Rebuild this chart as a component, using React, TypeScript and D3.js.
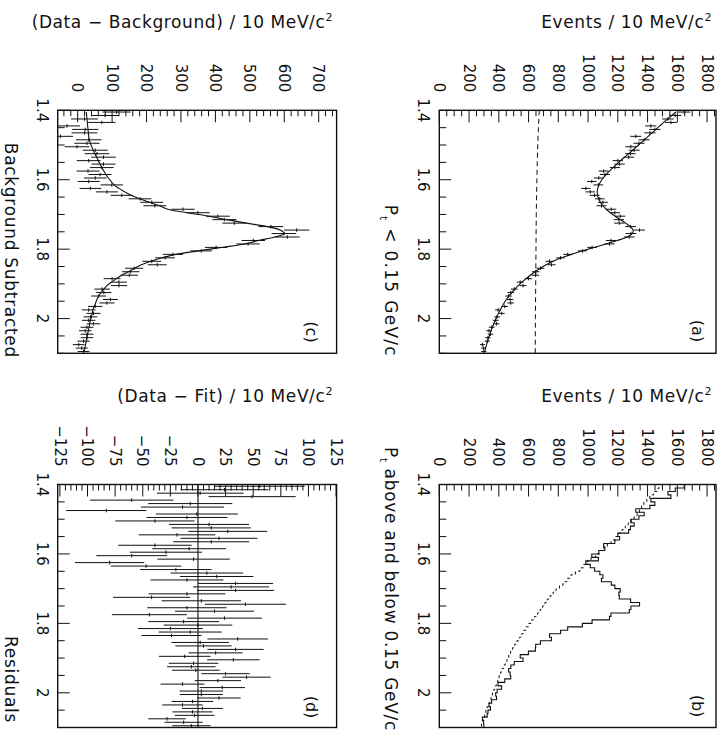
import React from 'react';
import * as d3 from 'd3';

// ---------------- data ----------------
const massMin = 1.4;
const massMax = 2.1;
const binWidth = 0.01;
const massBins = d3.range(70).map((i) => +(massMin + binWidth * (i + 0.5)).toFixed(3));

// (a) fit curve, Pt < 0.15 GeV/c
const fitA = [
  1590, 1562, 1535, 1508, 1482, 1456, 1430, 1404, 1378, 1352,
  1326, 1300, 1273, 1246, 1219, 1193, 1168, 1144, 1121, 1101,
  1085, 1073, 1065, 1062, 1064, 1071, 1083, 1100, 1122, 1150,
  1182, 1217, 1252, 1283, 1303, 1298, 1262, 1198, 1120, 1040,
  962, 888, 822, 765, 718, 678, 643, 612, 583, 556,
  531, 508, 487, 468, 451, 436, 422, 409, 397, 386,
  376, 366, 357, 348, 340, 332, 325, 318, 311, 305,
];
// (a) data, Pt < 0.15 GeV/c (also solid histogram of (b))
const dataA = [
  1646, 1586, 1537, 1557, 1422, 1449, 1416, 1321, 1377, 1342,
  1287, 1310, 1285, 1273, 1200, 1212, 1180, 1105, 1113, 1072,
  1025, 1069, 985, 1015, 1044, 1079, 1100, 1090, 1156, 1180,
  1216, 1207, 1210, 1286, 1346, 1288, 1277, 1154, 1144, 1027,
  962, 863, 815, 741, 754, 680, 648, 646, 599, 544,
  563, 504, 481, 466, 476, 480, 440, 395, 419, 389,
  379, 385, 352, 334, 344, 327, 322, 290, 298, 299,
];
// (a) dashed curve
const bgDashMass = [1.4, 1.5, 1.6, 1.7, 1.8, 1.9, 2.0, 2.1];
const bgDashA = [672, 662, 656, 652, 650, 648, 646, 645];

// (b) dashed histogram, Pt above 0.15 GeV/c (normalised)
const dashedB = [
  1500, 1470, 1440, 1415, 1395, 1375, 1360, 1345, 1330, 1310,
  1290, 1270, 1250, 1228, 1205, 1180, 1155, 1130, 1105, 1080,
  1050, 1020, 995, 970, 945, 915, 885, 858, 832, 808,
  785, 765, 745, 726, 710, 694, 678, 660, 640, 620,
  600, 582, 566, 552, 538, 522, 506, 492, 479, 467,
  455, 444, 433, 422, 412, 402, 393, 384, 375, 366,
  357, 348, 339, 330, 321, 313, 305, 297, 290, 283,
];

// (c) background subtracted data and fit
const dataC = [
  113, 80, 20, 70, -31, 22, 20, -50, 32, 27,
  -2, 51, 56, 75, 32, 75, 70, 30, 65, 51,
  32, 99, 37, 85, 128, 181, 215, 224, 306, 349,
  407, 426, 455, 561, 636, 599, 609, 510, 495, 402,
  359, 277, 254, 215, 231, 164, 154, 150, 100, 120,
  120, 71, 76, 61, 95, 85, 51, 32, 46, 37,
  32, 46, 27, 22, 27, 27, 17, 3, 12, 17,
];
const fitC = [
  25, 26, 27, 28, 29, 30, 31, 32, 34, 37,
  41, 45, 50, 55, 60, 65, 70, 76, 82, 89,
  97, 106, 120, 137, 155, 180, 208, 238, 262, 318,
  380, 432, 490, 551, 588, 600, 572, 525, 485, 418,
  350, 285, 245, 212, 185, 165, 148, 128, 112, 98,
  85, 76, 68, 61, 56, 52, 48, 44, 42, 40,
  37, 35, 33, 31, 29, 27, 25, 23, 21, 19,
];

// (d) residuals data - fit
const residD = [
  56, 24, 2, 49, -60, -7, -14, -83, -1, -10,
  -39, 10, 12, 27, -19, 19, 12, -39, -8, -29,
  -60, -4, -80, -47, -20, 8, 17, -10, 34, 30,
  34, -10, -42, 3, 43, -10, 15, -44, 24, -13,
  0, -25, -7, -24, 36, 2, 5, 34, 16, -12,
  32, -4, -6, -2, 25, 44, 18, -14, 22, 3,
  3, 19, -5, -14, 4, -5, -3, -28, -13, -6,
];

// tick labels
const massLabels = [1.4, 1.6, 1.8, 2.0];
const labelsAB = [0, 200, 400, 600, 800, 1000, 1200, 1400, 1600, 1800];
const labelsC = [0, 100, 200, 300, 400, 500, 600, 700];
const labelsD = [-125, -100, -75, -50, -25, 0, 25, 50, 75, 100, 125];

// ---------------- drawing ----------------
const FONT = '"DejaVu Sans", "Liberation Sans", sans-serif';
const INK = '#111';
const MINUS = '\u2212';

type Frame = { x0: number; x1: number; y0: number; y1: number };
type Scale = d3.ScaleLinear<number, number>;

const frameA: Frame = { x0: 439.3, x1: 716, y0: 110.3, y1: 353.3 };
const frameB: Frame = { x0: 439.3, x1: 716, y0: 484.5, y1: 727.5 };
const frameC: Frame = { x0: 57.7, x1: 336.6, y0: 110.3, y1: 353.3 };
const frameD: Frame = { x0: 57.7, x1: 336.6, y0: 484.5, y1: 727.5 };

function fmtNum(v: number) {
  const s = String(v);
  return v < 0 ? MINUS + s.slice(1) : s;
}

function Crosses({ xs, ys, values, errs }: { xs: Scale; ys: Scale; values: number[]; errs: number[] }) {
  return (
    <g stroke={INK} strokeWidth={1}>
      {values.map((v, i) => {
        const m = massBins[i];
        const e = errs[i];
        return (
          <g key={i}>
            <line x1={xs(v - e)} x2={xs(v + e)} y1={ys(m)} y2={ys(m)} />
            <line x1={xs(v)} x2={xs(v)} y1={ys(m - binWidth / 2)} y2={ys(m + binWidth / 2)} />
          </g>
        );
      })}
    </g>
  );
}

function histPath(values: number[], xs: Scale, ys: Scale, closeZero: boolean) {
  const pts: [number, number][] = [];
  if (closeZero) pts.push([xs(0), ys(massMin)]);
  values.forEach((v, i) => {
    pts.push([xs(v), ys(massMin + i * binWidth)]);
    pts.push([xs(v), ys(massMin + (i + 1) * binWidth)]);
  });
  if (closeZero) pts.push([xs(0), ys(massMax)]);
  return d3.line()(pts) || '';
}

type PanelProps = {
  id: string;
  frame: Frame;
  domain: [number, number];
  minor: number;
  major: number;
  labels: number[];
  title: string;
  titleEnd: number;
  titleBase: number;
  caption: React.ReactNode;
  captionBase: number;
  captionEnd: number;
  captionSpacing: number;
  tag: string;
  tagBase: number;
  tagY: number;
  render: (xs: Scale, ys: Scale) => React.ReactNode;
};

function Panel(p: PanelProps) {
  const { frame: f } = p;
  const xs = d3.scaleLinear().domain(p.domain).range([f.x0, f.x1]);
  const ys = d3.scaleLinear().domain([massMin, massMax]).range([f.y0, f.y1]);
  const ratio = Math.round(p.major / p.minor);
  const nStart = Math.ceil(p.domain[0] / p.minor - 1e-9);
  const nEnd = Math.floor(p.domain[1] / p.minor + 1e-9);
  const valueTicks = d3.range(nStart, nEnd + 1).map((n) => ({ v: n * p.minor, major: n % ratio === 0 }));
  const massTicks = d3.range(0, 15).map((k) => ({ m: massMin + 0.05 * k, major: k % 4 === 0 }));
  const clipId = 'clip-' + p.id;
  return (
    <g>
      <defs>
        <clipPath id={clipId}>
          <rect x={f.x0} y={f.y0} width={f.x1 - f.x0} height={f.y1 - f.y0} />
        </clipPath>
      </defs>
      <g clipPath={`url(#${clipId})`}>{p.render(xs, ys)}</g>
      <g stroke={INK} strokeWidth={1}>
        {valueTicks.map((t, i) => (
          <line key={i} x1={xs(t.v)} x2={xs(t.v)} y1={f.y0} y2={f.y0 + (t.major ? 12 : 6)} />
        ))}
        {massTicks.map((t, i) => (
          <line key={'m' + i} x1={f.x0} x2={f.x0 + (t.major ? 12 : 7)} y1={ys(t.m)} y2={ys(t.m)} />
        ))}
      </g>
      <rect x={f.x0} y={f.y0} width={f.x1 - f.x0} height={f.y1 - f.y0} fill="none" stroke={INK} strokeWidth={1.4} />
      <g fontSize={15} fill={INK} textAnchor="end">
        {p.labels.map((v) => (
          <text key={v} x={xs(v)} y={f.y0 - 18} dy="0.36em" transform={`rotate(90 ${xs(v)} ${f.y0 - 18})`}>
            {fmtNum(v)}
          </text>
        ))}
      </g>
      <g fontSize={15} fill={INK} textAnchor="middle">
        {massLabels.map((m) => (
          <text key={m} x={f.x0 - 21} y={ys(m)} transform={`rotate(90 ${f.x0 - 21} ${ys(m)})`}>
            {m === 2 ? '2' : m.toFixed(1)}
          </text>
        ))}
      </g>
      <text x={p.titleEnd} y={p.titleBase} textAnchor="end" fontSize={17} letterSpacing={0.6} fill={INK}>
        {p.title}
        <tspan dy={-7} fontSize={11}>2</tspan>
      </text>
      <text
        x={p.captionBase}
        y={p.captionEnd}
        textAnchor="end"
        fontSize={17}
        letterSpacing={p.captionSpacing}
        fill={INK}
        transform={`rotate(90 ${p.captionBase} ${p.captionEnd})`}
      >
        {p.caption}
      </text>
      <text
        x={p.tagBase}
        y={p.tagY}
        textAnchor="middle"
        fontSize={16}
        fill={INK}
        transform={`rotate(90 ${p.tagBase} ${p.tagY})`}
      >
        {p.tag}
      </text>
    </g>
  );
}

const ptCaption = (rest: string) => (
  <>
    P
    <tspan dy={5} fontSize={10}>t</tspan>
    <tspan dy={-5}>{rest}</tspan>
  </>
);

export default function App() {
  const W = 725;
  const H = 731;
  const errA = dataA.map((v) => Math.sqrt(v));
  return (
    <svg
      width={W}
      height={H}
      viewBox={`0 0 ${W} ${H}`}
      style={{ position: 'absolute', left: 0, top: 0, background: '#fff' }}
      fontFamily={FONT}
    >
      <rect width={W} height={H} fill="#fff" />
      <Panel
        id="a"
        frame={frameA}
        domain={[0, 1860]}
        minor={50}
        major={200}
        labels={labelsAB}
        title="Events / 10 MeV/c"
        titleEnd={712}
        titleBase={28}
        caption={ptCaption(' < 0.15 GeV/c')}
        captionBase={384.5}
        captionEnd={357}
        captionSpacing={1.3}
        tag="(a)"
        tagBase={692}
        tagY={331}
        render={(xs, ys) => (
          <g>
            <path
              d={
                d3
                  .line<number>()
                  .x((d, i) => xs(bgDashA[i]))
                  .y((d) => ys(d))
                  .curve(d3.curveMonotoneY)(bgDashMass) || ''
              }
              fill="none"
              stroke={INK}
              strokeWidth={1}
              strokeDasharray="5,3.5"
            />
            <path
              d={
                d3
                  .line<number>()
                  .x((d, i) => xs(fitA[i]))
                  .y((d) => ys(d))
                  .curve(d3.curveCatmullRom)(massBins) || ''
              }
              fill="none"
              stroke={INK}
              strokeWidth={1.1}
            />
            <Crosses xs={xs} ys={ys} values={dataA} errs={errA} />
          </g>
        )}
      />
      <Panel
        id="b"
        frame={frameB}
        domain={[0, 1860]}
        minor={50}
        major={200}
        labels={labelsAB}
        title="Events / 10 MeV/c"
        titleEnd={712}
        titleBase={402}
        caption={ptCaption(' above and below 0.15 GeV/c')}
        captionBase={384.5}
        captionEnd={731}
        captionSpacing={0.7}
        tag="(b)"
        tagBase={692}
        tagY={706}
        render={(xs, ys) => (
          <g fill="none" stroke={INK}>
            <path d={histPath(dashedB, xs, ys, false)} strokeWidth={1} strokeDasharray="3,3" />
            <path d={histPath(dataA, xs, ys, true)} strokeWidth={1.1} />
          </g>
        )}
      />
      <Panel
        id="c"
        frame={frameC}
        domain={[-58, 752]}
        minor={20}
        major={100}
        labels={labelsC}
        title={`(Data ${MINUS} Background) / 10 MeV/c`}
        titleEnd={333}
        titleBase={28}
        caption="Background Subtracted"
        captionBase={5}
        captionEnd={358}
        captionSpacing={0.7}
        tag="(c)"
        tagBase={306}
        tagY={332}
        render={(xs, ys) => (
          <g>
            <path
              d={
                d3
                  .line<number>()
                  .x((d, i) => xs(fitC[i]))
                  .y((d) => ys(d))
                  .curve(d3.curveCatmullRom)(massBins) || ''
              }
              fill="none"
              stroke={INK}
              strokeWidth={1.1}
            />
            <Crosses xs={xs} ys={ys} values={dataC} errs={errA} />
          </g>
        )}
      />
      <Panel
        id="d"
        frame={frameD}
        domain={[-127, 125.5]}
        minor={5}
        major={25}
        labels={labelsD}
        title={`(Data ${MINUS} Fit) / 10 MeV/c`}
        titleEnd={333}
        titleBase={402}
        caption="Residuals"
        captionBase={5}
        captionEnd={723}
        captionSpacing={0.7}
        tag="(d)"
        tagBase={306}
        tagY={707}
        render={(xs, ys) => (
          <g>
            <line x1={xs(0)} x2={xs(0)} y1={frameD.y0} y2={frameD.y1} stroke={INK} strokeWidth={1.1} />
            <Crosses xs={xs} ys={ys} values={residD} errs={errA} />
          </g>
        )}
      />
    </svg>
  );
}
